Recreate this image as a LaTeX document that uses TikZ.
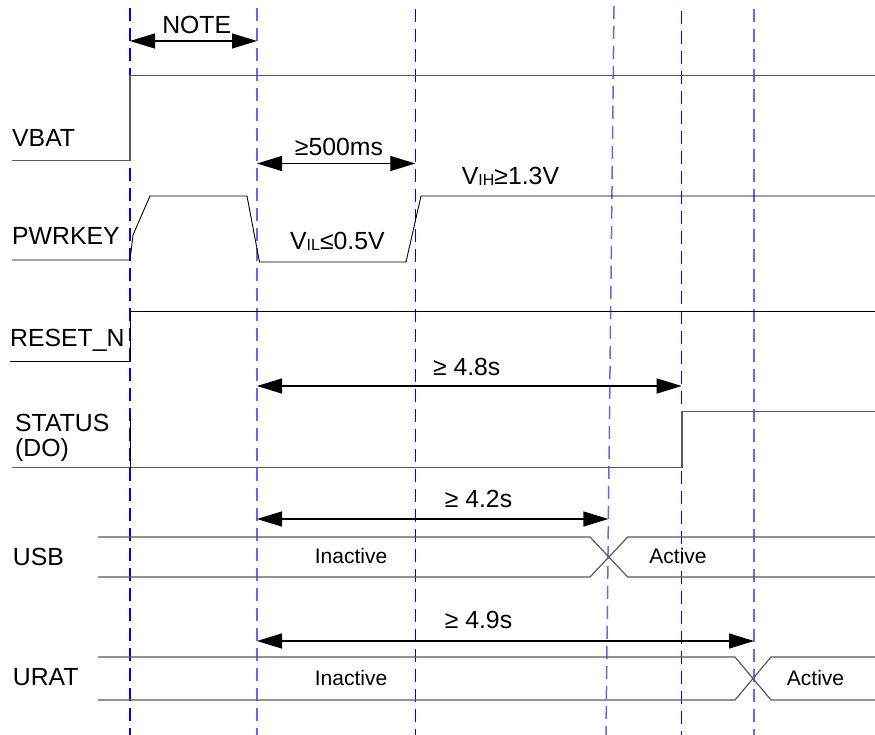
\documentclass[tikz,border=0pt]{standalone}
\usepackage{fontspec}
\setmainfont{Liberation Sans}
\usetikzlibrary{arrows.meta}
\newcommand{\lowsub}[1]{\raisebox{-1pt}{\fontsize{16}{16}\selectfont #1}}
\begin{document}
\begin{tikzpicture}[x=1pt,y=-1pt,
  sig/.style={line width=1.2pt, draw=black!65},
  sigb/.style={line width=0.9pt, draw=black},
  guide/.style={draw=blue, line width=1.1pt, dash pattern=on 13pt off 7pt},
  guidel/.style={draw=blue!60, line width=1.5pt, dash pattern=on 13pt off 7pt},
  dim/.style={line width=1.2pt, draw=black, {Triangle[length=25pt,width=15pt]}-{Triangle[length=25pt,width=15pt]}},
  lbl/.style={font=\fontsize{24.8}{28}\selectfont, inner sep=0pt},
  busl/.style={font=\fontsize{21}{24}\selectfont, inner sep=0pt}]
\useasboundingbox (0,0) rectangle (875,735);

% guide lines
\coordinate (g1t) at (130,8);   \coordinate (g1b) at (130,735);
\coordinate (g2t) at (257,8);   \coordinate (g2b) at (257,735);
\coordinate (g3t) at (415.3,9); \coordinate (g3b) at (415.3,735);
\coordinate (g4t) at (614,6);   \coordinate (g4b) at (606,735);
\coordinate (g5t) at (681.7,11);\coordinate (g5b) at (681.7,735);
\coordinate (g6t) at (754,9);   \coordinate (g6b) at (754,735);
\draw[guide]  (g1t) -- (g1b);
\draw[guidel] (g2t) -- (g2b);
\draw[guide]  (g3t) -- (g3b);
\draw[guidel] (g4t) -- (g4b);
\draw[guide]  (g5t) -- (g5b);
\draw[guidel] (g6t) -- (g6b);

% VBAT
\draw[sig] (12,160.5) -- (130,160.5) -- (130,75.5) -- (875,75.5);
% PWRKEY
\draw[sigb] (12,260) -- (130,260) -- (133,235) -- (150,196) -- (247,196)
  -- (259.5,262) -- (406,262) -- (421,196) -- (875,196);
% RESET_N
\draw[sigb] (10,361) -- (130,361) -- (130,311) -- (875,311);
% STATUS
\draw[sig] (12,467.5) -- (682,467.5) -- (682,411.5) -- (875,411.5);
\draw[sigb] (130,413) -- (130,467.5);
% USB
\draw[sig] (98,537) -- (590,537) -- (627.7,577) -- (875,577);
\draw[sig] (98,577) -- (590,577) -- (627.7,537) -- (875,537);
% URAT
\draw[sig] (98,657) -- (735,657) -- (771,700) -- (875,700);
\draw[sig] (98,700) -- (735,700) -- (771,657) -- (875,657);

% dimension arrows
\coordinate (a1l) at (130,41);    \coordinate (a1r) at (257,41);
\coordinate (a2l) at (257,163.5); \coordinate (a2r) at (415.3,163.5);
\coordinate (a3l) at (257,386);   \coordinate (a3r) at (681.7,386);
\coordinate (a4l) at (257,519);   \coordinate (a4r) at (608.4,519);
\coordinate (a5l) at (257,641);   \coordinate (a5r) at (754,641);
\draw[dim] (a1l) -- (a1r);
\draw[dim] (a2l) -- (a2r);
\draw[dim] (a3l) -- (a3r);
\draw[dim] (a4l) -- (a4r);
\draw[dim] (a5l) -- (a5r);

% labels
\node[lbl, anchor=base west] (vbat) at (12,147) {VBAT};
\node[lbl, anchor=base west] (pwrkey) at (12,245) {PWRKEY};
\node[lbl, anchor=base west] (reset) at (10,346.7) {RESET\_N};
\node[lbl, anchor=base west] (status) at (15,431.7) {STATUS};
\node[lbl, anchor=base west] (do) at (15,456.7) {(DO)};
\node[lbl, anchor=base west] (usb) at (12.7,565) {USB};
\node[lbl, anchor=base west] (urat) at (12.7,685.7) {URAT};
\node[lbl, anchor=base] (note) at (196.7,33.3) {NOTE};
\node[lbl, anchor=base] (t500) at (339,156) {≥500ms};
\node[lbl, anchor=base west] (vil) at (290,250) {V\lowsub{IL}≤0.5V};
\node[lbl, anchor=base west] (vih) at (461.7,185) {V\lowsub{IH}≥1.3V};
\node[lbl, anchor=base] (t48) at (466.7,375) {≥ 4.8s};
\node[lbl, anchor=base] (t42) at (478.5,507.3) {≥ 4.2s};
\node[lbl, anchor=base] (t49) at (478.5,628.3) {≥ 4.9s};
\node[busl, anchor=base] (usbin) at (351,563.3) {Inactive};
\node[busl, anchor=base] (usbact) at (678,563.3) {Active};
\node[busl, anchor=base] (uratin) at (351,685) {Inactive};
\node[busl, anchor=base] (uratact) at (815.5,685.5) {Active};
\end{tikzpicture}
\end{document}
